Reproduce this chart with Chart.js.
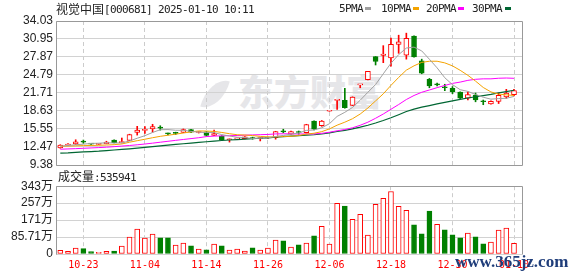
<!DOCTYPE html>
<html><head><meta charset="utf-8">
<script src="https://cdn.jsdelivr.net/npm/chart.js@4.4.1/dist/chart.umd.min.js"></script>
<style>
html,body{margin:0;padding:0;background:#fff;}
body{width:578px;height:276px;position:relative;overflow:hidden;}
.a{position:absolute;white-space:nowrap;margin:0;}
.cjk{font-family:"Noto Sans CJK SC",sans-serif;font-size:12px;line-height:14px;color:#222;}
.mono{font-family:"DejaVu Sans Mono",monospace;font-size:11px;letter-spacing:-0.62px;line-height:14px;color:#222;}
.sq{position:absolute;width:6px;height:3px;}
#wm{font-family:"Noto Sans CJK SC",sans-serif;font-weight:900;font-size:36px;line-height:36px;color:#e6e6e9;}
#leaf{position:absolute;left:204px;top:78px;width:22px;height:32px;background:#e6e6e9;border-radius:100% 0 100% 0;transform:rotate(15deg);}
#site{font-family:"Liberation Serif",serif;font-weight:bold;font-size:17px;line-height:17px;color:#1f3d7a;}
canvas{position:absolute;left:0;}
</style></head>
<body>
<div id="leaf"></div>
<div id="wm" class="a" style="left:238px;top:72px;">东方财富</div>
<canvas id="price" width="578" height="176" style="top:0"></canvas>
<canvas id="vol" width="578" height="100" style="top:176px"></canvas>
<div class="a cjk" style="left:56px;top:2px;">视觉中国</div>
<div class="a mono" style="left:104px;top:3px;">[000681] 2025-01-10 10:11</div>
<div class="a mono" style="left:339px;top:2px;">5PMA</div><div class="sq" style="left:365px;top:7px;background:#a0a0a0"></div>
<div class="a mono" style="left:381px;top:2px;">10PMA</div><div class="sq" style="left:413px;top:7px;background:#f4a300"></div>
<div class="a mono" style="left:426px;top:2px;">20PMA</div><div class="sq" style="left:458px;top:7px;background:#ff00ff"></div>
<div class="a mono" style="left:472px;top:2px;">30PMA</div><div class="sq" style="left:505px;top:7px;background:#006633"></div>
<div class="a cjk" style="left:58px;top:169px;">成交量</div>
<div class="a mono" id="volTxt" style="left:94px;top:171px;"></div>
<div id="site" class="a" style="left:455px;top:253px;">www.365jz.com</div>
<script>
// ---------- data ----------
const dates = ['10-18','10-21','10-22','10-23','10-24','10-25','10-28','10-29','10-30','10-31',
 '11-01','11-04','11-05','11-06','11-07','11-08','11-11','11-12','11-13','11-14',
 '11-15','11-18','11-19','11-20','11-21','11-22','11-25','11-26','11-27','11-28',
 '11-29','12-02','12-03','12-04','12-05','12-06','12-09','12-10','12-11','12-12',
 '12-13','12-16','12-17','12-18','12-19','12-20','12-23','12-24','12-25','12-26',
 '12-27','12-30','12-31','01-02','01-03','01-06','01-07','01-08','01-09','01-10'];
const tickDates = ['10-23','11-04','11-14','11-26','12-06','12-18','12-30','01-10'];
const opens  = [12.30,12.80,13.00,13.40,13.05,12.90,13.05,13.65,13.20,13.60,
 14.95,15.30,15.55,15.80,14.80,14.85,14.95,15.45,14.95,15.05,
 14.45,14.30,13.70,13.85,13.90,14.00,13.90,14.00,14.05,15.15,
 14.65,15.05,14.90,16.90,16.10,18.58,20.44,20.45,19.60,23.09,
 24.00,27.94,28.15,27.70,30.00,28.20,31.45,27.20,24.05,23.12,
 22.65,22.50,21.85,20.80,21.35,20.25,19.85,20.25,21.05,21.40];
const highs  = [12.85,13.05,13.70,13.65,13.10,13.05,13.45,13.70,14.00,14.65,
 16.00,15.95,16.35,16.10,14.85,15.00,15.55,15.50,15.10,15.10,
 15.35,14.40,13.85,14.00,14.25,14.15,14.05,14.15,15.15,15.50,
 15.20,15.20,16.35,16.95,17.00,18.59,20.45,22.50,21.05,23.10,
 25.41,27.94,29.81,31.10,31.60,31.95,31.50,27.50,24.20,23.40,
 23.20,22.80,21.90,21.90,21.70,20.50,20.35,21.70,22.33,22.33];
const lows   = [12.25,12.75,12.90,13.10,12.90,12.85,13.00,13.15,13.15,13.55,
 14.50,14.80,15.00,15.35,14.55,14.60,14.90,14.90,14.85,14.35,
 14.40,13.55,13.30,13.80,13.85,13.80,13.50,13.95,13.80,14.90,
 14.60,14.65,14.85,15.40,16.00,18.58,18.90,19.10,19.55,22.60,
 23.95,26.50,26.90,26.30,28.50,27.50,27.85,25.00,22.60,22.90,
 22.10,21.60,20.75,20.50,20.20,19.70,19.80,19.90,20.80,21.20];
const closes = [12.80,12.95,13.35,13.30,12.95,13.00,13.30,13.20,13.35,14.60,
 15.35,15.50,15.95,15.70,14.72,14.80,15.45,15.00,15.02,14.45,
 14.75,13.70,13.80,13.95,14.20,13.90,14.00,14.10,15.10,15.05,
 15.10,14.95,16.30,15.50,16.90,18.59,20.45,19.20,21.00,23.10,
 25.40,27.10,28.35,30.05,30.45,31.05,27.90,25.10,22.90,23.10,
 22.60,21.95,20.80,21.45,20.50,20.20,20.30,21.30,21.70,22.10];
// volume, unit: 万
const volumes = [18.4,13.4,30.1,26.8,11.7,8.4,13.4,15.1,40.2,85.3,
 125.5,80.3,100.4,82.0,82.0,45.2,55.2,41.8,25.1,21.7,
 50.2,41.8,20.1,25.1,15.1,31.8,20.1,30.1,70.3,66.9,
 35.1,46.8,55.2,92.0,140.5,50.2,256.0,242.6,175.7,200.8,
 95.4,251.0,281.1,316.2,240.9,220.8,147.2,102.1,217.5,150.6,
 122.1,97.0,82.0,105.4,87.0,51.9,60.2,120.5,130.5,53.6];
const lastVolume = '535941';
const ma5  = [12.60,12.72,12.85,12.95,13.07,13.11,13.18,13.15,13.16,13.49,
 13.96,14.40,14.95,15.42,15.44,15.33,15.32,15.13,15.00,14.94,
 14.93,14.58,14.34,14.13,14.08,13.91,13.97,14.03,14.26,14.43,
 14.67,14.86,15.30,15.38,15.75,16.45,17.70,18.40,19.23,20.47,
 21.83,23.16,24.99,26.80,28.27,29.40,29.56,28.91,27.48,26.01,
 24.32,23.13,22.27,21.98,21.46,20.98,20.65,20.75,20.80,21.12];
const ma10 = [12.60,12.62,12.66,12.70,12.72,12.76,12.80,12.86,12.98,13.28,
 13.54,13.79,14.05,14.29,14.47,14.65,14.86,15.04,15.21,15.19,
 15.13,14.95,14.74,14.56,14.51,14.42,14.28,14.19,14.20,14.26,
 14.29,14.42,14.67,14.82,15.09,15.56,16.20,16.71,17.30,18.11,
 19.14,20.35,21.56,23.01,24.37,25.62,26.36,26.95,27.14,27.14,
 26.86,26.35,25.59,24.73,23.74,22.65,21.89,21.51,21.39,21.29];
const ma20 = [12.08,12.13,12.18,12.24,12.30,12.36,12.43,12.52,12.62,12.72,
 12.84,12.97,13.12,13.28,13.44,13.60,13.75,13.90,14.05,14.24,
 14.33,14.37,14.39,14.43,14.49,14.53,14.57,14.61,14.70,14.72,
 14.71,14.68,14.70,14.69,14.80,14.99,15.24,15.45,15.75,16.18,
 16.71,17.38,18.11,18.92,19.73,20.59,21.28,21.83,22.22,22.62,
 23.00,23.35,23.57,23.87,24.05,24.13,24.13,24.23,24.27,24.22];
const ma30 = [11.40,11.45,11.55,11.62,11.68,11.75,11.85,11.95,12.05,12.15,
 12.27,12.40,12.52,12.65,12.78,12.90,13.02,13.14,13.25,13.36,
 13.47,13.57,13.66,13.74,13.82,13.89,13.96,14.04,14.13,14.24,
 14.32,14.39,14.48,14.56,14.69,14.88,15.11,15.31,15.57,15.85,
 16.19,16.57,16.99,17.47,17.99,18.53,18.95,19.28,19.55,19.83,
 20.10,20.37,20.60,20.85,21.06,21.27,21.48,21.72,21.94,22.18];
const priceTickLabels = ['9.38','12.47','15.55','18.63','21.71','24.79','27.87','30.95','34.03'];
const volTickValues = [0, 85.71, 171.42, 257.13, 342.84];
const volTickLabels = ['0','85.71万','171万','257万','343万'];

// ---------- styling ----------
const RED = '#ff0000', GREEN = '#008000';
const MA_COLORS = ['#a0a0a0','#f4a300','#ff00ff','#006633'];
const N = dates.length;
const X_MIN = -0.56, X_MAX = N + 0.04;
const tickIdx = tickDates.map(d => dates.indexOf(d));
const priceTickValues = priceTickLabels.map(Number);
const up = closes.map((c,i) => c >= opens[i]);
const candleColor = up.map(u => u ? RED : GREEN);
const volUp = closes.map((c,i) => i === 0 ? true : c >= closes[i-1]);
document.getElementById('volTxt').textContent = ':' + lastVolume;

const AXIS_FONT = {family: '"Liberation Sans","Noto Sans CJK SC",sans-serif', size: 12};

const framePlugin = {
  id: 'frame',
  afterDatasetsDraw(chart, args, opts) {
    const {ctx, chartArea: a} = chart;
    ctx.save();
    ctx.strokeStyle = '#999999';
    ctx.lineWidth = 1;
    ctx.beginPath();
    const l = Math.round(a.left) + 0.5, r = Math.round(a.right) + 0.5;
    const t = Math.round(a.top) + 0.5, b = Math.round(a.bottom) + 0.5;
    ctx.moveTo(l, b); ctx.lineTo(l, t); ctx.lineTo(r, t); ctx.lineTo(r, b);
    if (opts.bottom) { ctx.lineTo(l, b); }
    ctx.stroke();
    ctx.restore();
  }
};

function xScale(showLabels) {
  return {
    type: 'linear', min: X_MIN, max: X_MAX, offset: false,
    grid: {offset: false, color: '#cccccc', drawTicks: false, lineWidth: 1},
    border: {display: false, dash: [4, 3]},
    ticks: {
      display: showLabels, autoSkip: false, maxRotation: 0, padding: 5,
      color: RED, font: {family: '"DejaVu Sans Mono",monospace', size: 10},
      callback: v => dates[v]
    },
    afterBuildTicks: s => { s.ticks = tickIdx.map(v => ({value: v})); },
    afterFit: s => { s.height = showLabels ? 22 : 0; }
  };
}

function yScale(min, max, values, labels) {
  return {
    type: 'linear', min: min, max: max, position: 'left',
    grid: {color: '#d2d2d2', drawTicks: false},
    border: {display: false},
    ticks: {padding: 3, color: '#222', font: AXIS_FONT, autoSkip: false, callback: (v, i) => labels[i]},
    afterBuildTicks: s => { s.ticks = values.map(v => ({value: v})); },
    afterFit: s => { s.width = 56; }
  };
}

const common = {
  responsive: false, animation: false, devicePixelRatio: 1, events: [],
  plugins: {legend: {display: false}, tooltip: {enabled: false}}
};

new Chart(document.getElementById('price'), {
  type: 'bar',
  data: {
    datasets: [
      {type: 'line', label: '5PMA', data: ma5.map((v,i) => ({x: i, y: v})), borderColor: MA_COLORS[0], borderWidth: 1, pointRadius: 0, order: 0},
      {type: 'line', label: '10PMA', data: ma10.map((v,i) => ({x: i, y: v})), borderColor: MA_COLORS[1], borderWidth: 1, pointRadius: 0, order: 0},
      {type: 'line', label: '20PMA', data: ma20.map((v,i) => ({x: i, y: v})), borderColor: MA_COLORS[2], borderWidth: 1, pointRadius: 0, order: 0},
      {type: 'line', label: '30PMA', data: ma30.map((v,i) => ({x: i, y: v})), borderColor: MA_COLORS[3], borderWidth: 1.2, pointRadius: 0, order: 0},
      {type: 'bar', label: 'body', data: opens.map((o,i) => ({x: i, y: [o, closes[i]]})),
       backgroundColor: up.map(u => u ? '#ffffff' : GREEN), borderColor: candleColor,
       borderWidth: 1, borderSkipped: false, barThickness: 5, grouped: false, minBarLength: 1, order: 4},
      {type: 'bar', label: 'wick', data: lows.map((l,i) => ({x: i, y: [l, highs[i]]})),
       backgroundColor: candleColor, borderWidth: 0, barThickness: 1, grouped: false, order: 5}
    ]
  },
  options: Object.assign({}, common, {
    layout: {padding: {top: 21, right: 56, bottom: 11, left: 0}},
    scales: {
      x: xScale(false),
      y: yScale(9.38, 34.03, priceTickValues, priceTickLabels)
    },
    plugins: Object.assign({}, common.plugins, {frame: {bottom: true}})
  }),
  plugins: [framePlugin]
});

new Chart(document.getElementById('vol'), {
  type: 'bar',
  data: {
    datasets: [
      {label: '成交量', data: volumes.map((v,i) => ({x: i, y: v})),
       backgroundColor: volUp.map(u => u ? '#ffffff' : GREEN), borderColor: volUp.map(u => u ? RED : GREEN),
       borderWidth: 1, borderSkipped: false, barThickness: 5, grouped: false}
    ]
  },
  options: Object.assign({}, common, {
    layout: {padding: {top: 10, right: 56, bottom: 0, left: 0}},
    scales: {
      x: xScale(true),
      y: yScale(0, 342.84, volTickValues, volTickLabels)
    },
    plugins: Object.assign({}, common.plugins, {frame: {bottom: false}})
  }),
  plugins: [framePlugin]
});
</script>
</body></html>
